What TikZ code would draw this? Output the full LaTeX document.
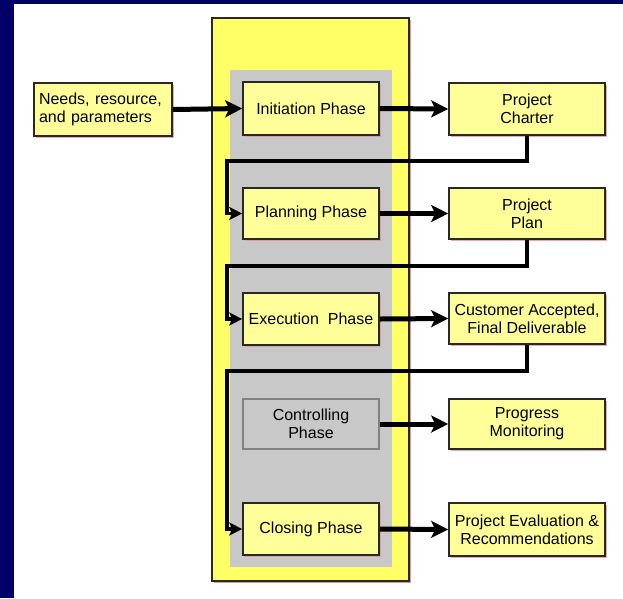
\documentclass[tikz,border=0pt]{standalone}
\usepackage{fontspec}
\setmainfont{Liberation Sans}
\usetikzlibrary{arrows.meta,shadows}
\definecolor{navy}{RGB}{0,0,102}
\definecolor{boxyellow}{RGB}{255,255,153}
\definecolor{bigyellow}{RGB}{255,255,102}
\definecolor{phasegray}{RGB}{200,200,200}
\definecolor{ctrlborder}{RGB}{130,130,130}
\definecolor{pinkshadow}{RGB}{225,150,150}
\definecolor{boxborder}{RGB}{40,40,40}
\tikzset{
  box/.style={draw=boxborder, line width=1.6pt, fill=boxyellow, align=center,
    font=\fontsize{16}{18}\selectfont, inner sep=1pt,
    drop shadow={shadow xshift=2pt, shadow yshift=-2pt, fill=pinkshadow, opacity=0.8}},
  phasebox/.style={box, minimum width=136pt, minimum height=53pt},
  outbox/.style={box, minimum width=156pt, minimum height=52pt},
  ctrlbox/.style={draw=ctrlborder, line width=1.4pt, fill=phasegray, align=center,
    font=\fontsize{16}{18}\selectfont, minimum width=136pt, minimum height=50pt},
  bigarrow/.style={line width=5pt, -{Stealth[length=17pt,width=17pt,inset=4pt]}},
  elbow/.style={line width=3.5pt, -{Stealth[length=13pt,width=13pt,inset=3pt]}}
}
\begin{document}
\begin{tikzpicture}[x=1pt,y=-1pt]
\useasboundingbox (0,0) rectangle (623,598);
\fill[white] (0,0) rectangle (623,598);
\fill[navy] (0,0) rectangle (14,598);
\fill[navy] (0,0) rectangle (623,4);
% big yellow and gray regions
\fill[pinkshadow] (214,20) rectangle (411,583);
\filldraw[fill=bigyellow, draw=boxborder, line width=1.6pt] (212,18) rectangle (409,581);
\fill[phasegray] (230,70) rectangle (392,567);

\node[box, align=left, minimum width=138pt, minimum height=53pt, text width=128pt] (needs) at (103,109.5) {Needs, resource,\\and parameters};

\node[phasebox] (init) at (311,108.5) {Initiation Phase};
\node[phasebox, minimum height=51pt] (plan) at (311,213.5) {Planning Phase};
\node[phasebox, minimum height=52pt] (exec) at (311,319) {Execution\ \ Phase};
\node[ctrlbox] (ctrl) at (311,424) {Controlling\\Phase};
\node[phasebox, minimum height=52pt] (close) at (311,529) {Closing Phase};

\node[outbox] (charter) at (527,109) {Project\\Charter};
\node[outbox, minimum height=51pt] (pplan) at (527,213.5) {Project\\Plan};
\node[outbox, minimum height=51pt] (cust) at (527,318.5) {Customer Accepted,\\Final Deliverable};
\node[outbox, minimum height=50pt] (prog) at (527,424) {Progress\\Monitoring};
\node[outbox, minimum height=53pt] (eval) at (527,529.5) {Project Evaluation \&\\Recommendations};

\coordinate (c1) at (227,161);
\coordinate (c2) at (227,266);
\coordinate (c3) at (227,371);

\draw[bigarrow] (needs.east) -- (init.west);
\draw[bigarrow] (init.east) -- (charter.west);
\draw[bigarrow] (plan.east) -- (pplan.west);
\draw[bigarrow] (exec.east) -- (cust.west);
\draw[bigarrow] (ctrl.east) -- (prog.west);
\draw[bigarrow] (close.east) -- (eval.west);

\draw[elbow] (charter.south) |- (c1) |- (plan.west);
\draw[elbow] (pplan.south) |- (c2) |- (exec.west);
\draw[elbow] (cust.south) |- (c3) |- (close.west);
\end{tikzpicture}
\end{document}
